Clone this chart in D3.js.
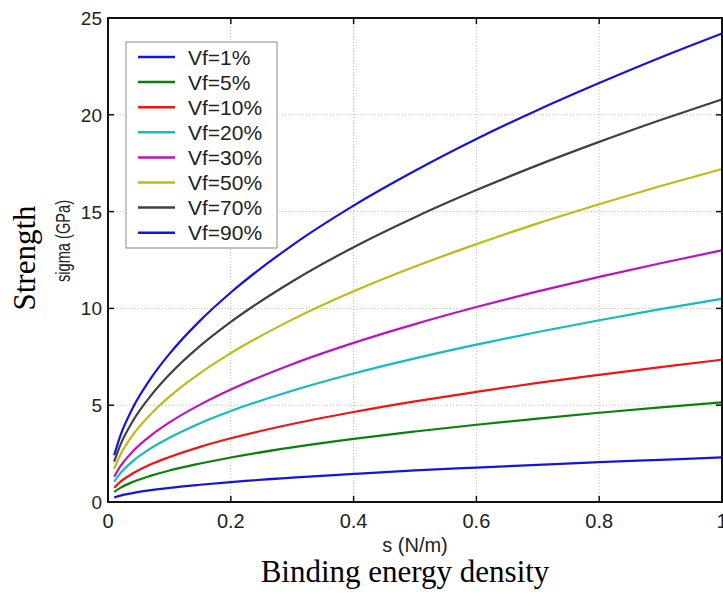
<!DOCTYPE html>
<meta charset="utf-8">
<title>Strength vs binding energy density</title>
<script src="https://d3js.org/d3.v7.min.js"></script>
<style>
  body { margin: 0; background: #fff; }
  .tick-label { font-family: "Liberation Sans", Arial, sans-serif; font-size: 19px; fill: #222; }
  .axis-title { font-family: "Liberation Sans", Arial, sans-serif; font-size: 20px; fill: #222; }
  .big-title { font-family: "Liberation Serif", "Times New Roman", serif; font-size: 31px; fill: #000; }
  .legend-text { font-family: "Liberation Sans", Arial, sans-serif; font-size: 21px; fill: #222; }
</style>
<div id="chart"></div>
<script>
// values
var sValues = [0.01, 0.02, 0.04, 0.07, 0.1, 0.15, 0.2, 0.3, 0.4, 0.5, 0.6, 0.7, 0.8, 0.9, 1.0];

var vf1  = [0.23, 0.33, 0.46, 0.61, 0.73, 0.89, 1.03, 1.26, 1.45, 1.63, 1.78, 1.92, 2.06, 2.18, 2.30];
var vf5  = [0.52, 0.73, 1.03, 1.36, 1.63, 1.99, 2.30, 2.82, 3.26, 3.64, 3.99, 4.31, 4.61, 4.89, 5.15];
var vf10 = [0.74, 1.04, 1.47, 1.95, 2.32, 2.85, 3.29, 4.03, 4.65, 5.20, 5.69, 6.15, 6.57, 6.97, 7.35];
var vf20 = [1.05, 1.48, 2.10, 2.78, 3.32, 4.07, 4.70, 5.75, 6.64, 7.42, 8.13, 8.78, 9.39, 9.96, 10.5];
var vf30 = [1.30, 1.84, 2.60, 3.44, 4.11, 5.03, 5.81, 7.12, 8.22, 9.19, 10.07, 10.88, 11.63, 12.33, 13.0];
var vf50 = [1.72, 2.43, 3.44, 4.55, 5.44, 6.66, 7.69, 9.42, 10.88, 12.16, 13.32, 14.39, 15.38, 16.32, 17.2];
var vf70 = [2.08, 2.94, 4.16, 5.50, 6.58, 8.06, 9.30, 11.39, 13.16, 14.71, 16.11, 17.40, 18.60, 19.73, 20.8];
var vf90 = [2.42, 3.42, 4.84, 6.40, 7.65, 9.37, 10.82, 13.26, 15.31, 17.11, 18.75, 20.25, 21.64, 22.96, 24.2];

var seriesLabels = ["Vf=1%", "Vf=5%", "Vf=10%", "Vf=20%", "Vf=30%", "Vf=50%", "Vf=70%", "Vf=90%"];
var seriesData = [vf1, vf5, vf10, vf20, vf30, vf50, vf70, vf90];

var xTicks = [0, 0.2, 0.4, 0.6, 0.8, 1];
var xTickLabels = ["0", "0.2", "0.4", "0.6", "0.8", "1"];
var yTicks = [0, 5, 10, 15, 20, 25];

var colors = ["#1414dc", "#0a800a", "#f01414", "#14bcbc", "#bc14bc", "#bcbc14", "#404040", "#1414dc"];

var W = 723, H = 596;
var plotLeft = 108, plotRight = 722, plotTop = 18, plotBottom = 502;

var svg = d3.select("#chart").append("svg")
    .attr("width", W)
    .attr("height", H)
    .style("display", "block");

svg.append("rect").attr("width", W).attr("height", H).attr("fill", "#fff");

var x = d3.scaleLinear().domain([0, 1]).range([plotLeft, plotRight]);
var y = d3.scaleLinear().domain([0, 25]).range([plotBottom, plotTop]);

// dotted grid
svg.append("g").selectAll("line")
  .data(xTicks.slice(1, -1))
  .enter().append("line")
    .attr("x1", d => x(d)).attr("x2", d => x(d))
    .attr("y1", plotTop).attr("y2", plotBottom)
    .attr("stroke", "#bdbdbd")
    .attr("stroke-width", 1)
    .attr("stroke-dasharray", "1,2");

svg.append("g").selectAll("line")
  .data(yTicks.slice(1, -1))
  .enter().append("line")
    .attr("x1", plotLeft).attr("x2", plotRight)
    .attr("y1", d => y(d)).attr("y2", d => y(d))
    .attr("stroke", "#bdbdbd")
    .attr("stroke-width", 1)
    .attr("stroke-dasharray", "1,2");

// curves
var line = d3.line()
    .x((d, i) => x(sValues[i]))
    .y(d => y(d))
    .curve(d3.curveMonotoneX);

svg.append("g").selectAll("path")
  .data(seriesData)
  .enter().append("path")
    .attr("d", d => line(d))
    .attr("fill", "none")
    .attr("stroke", (d, i) => colors[i])
    .attr("stroke-width", 2.2);

// ticks inside, on all four sides
var tk = 6;
xTicks.forEach(function(t) {
  svg.append("line").attr("x1", x(t)).attr("x2", x(t)).attr("y1", plotBottom).attr("y2", plotBottom - tk)
    .attr("stroke", "#111").attr("stroke-width", 1.5);
  svg.append("line").attr("x1", x(t)).attr("x2", x(t)).attr("y1", plotTop).attr("y2", plotTop + tk)
    .attr("stroke", "#111").attr("stroke-width", 1.5);
});
yTicks.forEach(function(t) {
  svg.append("line").attr("x1", plotLeft).attr("x2", plotLeft + tk).attr("y1", y(t)).attr("y2", y(t))
    .attr("stroke", "#111").attr("stroke-width", 1.5);
  svg.append("line").attr("x1", plotRight).attr("x2", plotRight - tk).attr("y1", y(t)).attr("y2", y(t))
    .attr("stroke", "#111").attr("stroke-width", 1.5);
});

// box
svg.append("rect")
    .attr("x", plotLeft).attr("y", plotTop)
    .attr("width", plotRight - plotLeft).attr("height", plotBottom - plotTop)
    .attr("fill", "none")
    .attr("stroke", "#111")
    .attr("stroke-width", 2);

// tick labels
svg.append("g").selectAll("text")
  .data(yTicks)
  .enter().append("text")
    .attr("class", "tick-label")
    .attr("x", plotLeft - 6)
    .attr("y", d => y(d) + 7)
    .attr("text-anchor", "end")
    .text(d => d);

svg.append("g").selectAll("text")
  .data(xTicks)
  .enter().append("text")
    .attr("class", "tick-label")
    .style("font-size", "20px")
    .attr("x", d => x(d))
    .attr("y", 528)
    .attr("text-anchor", "middle")
    .text((d, i) => xTickLabels[i]);

// axis titles
svg.append("text")
    .attr("class", "axis-title")
    .attr("x", (plotLeft + plotRight) / 2)
    .attr("y", 552)
    .attr("text-anchor", "middle")
    .text("s (N/m)");

svg.append("text")
    .attr("class", "axis-title")
    .attr("transform", "translate(70,241)rotate(-90)")
    .attr("text-anchor", "middle")
    .attr("textLength", 82)
    .attr("lengthAdjust", "spacingAndGlyphs")
    .text("sigma (GPa)");

svg.append("text")
    .attr("class", "big-title")
    .attr("x", 405)
    .attr("y", 582)
    .attr("text-anchor", "middle")
    .text("Binding energy density");

svg.append("text")
    .attr("class", "big-title")
    .attr("transform", "translate(35,258)rotate(-90)")
    .attr("text-anchor", "middle")
    .text("Strength");

// legend
var lg = svg.append("g");
lg.append("rect")
    .attr("x", 126).attr("y", 42)
    .attr("width", 151).attr("height", 206)
    .attr("fill", "#fff")
    .attr("stroke", "#8a8a8a")
    .attr("stroke-width", 1);

seriesLabels.forEach(function(name, i) {
  var ly = 57 + i * 25.1;
  lg.append("line")
      .attr("x1", 138).attr("x2", 175)
      .attr("y1", ly).attr("y2", ly)
      .attr("stroke", colors[i])
      .attr("stroke-width", 2.5);
  lg.append("text")
      .attr("class", "legend-text")
      .attr("x", 188)
      .attr("y", ly + 7.5)
      .text(name);
});
</script>
